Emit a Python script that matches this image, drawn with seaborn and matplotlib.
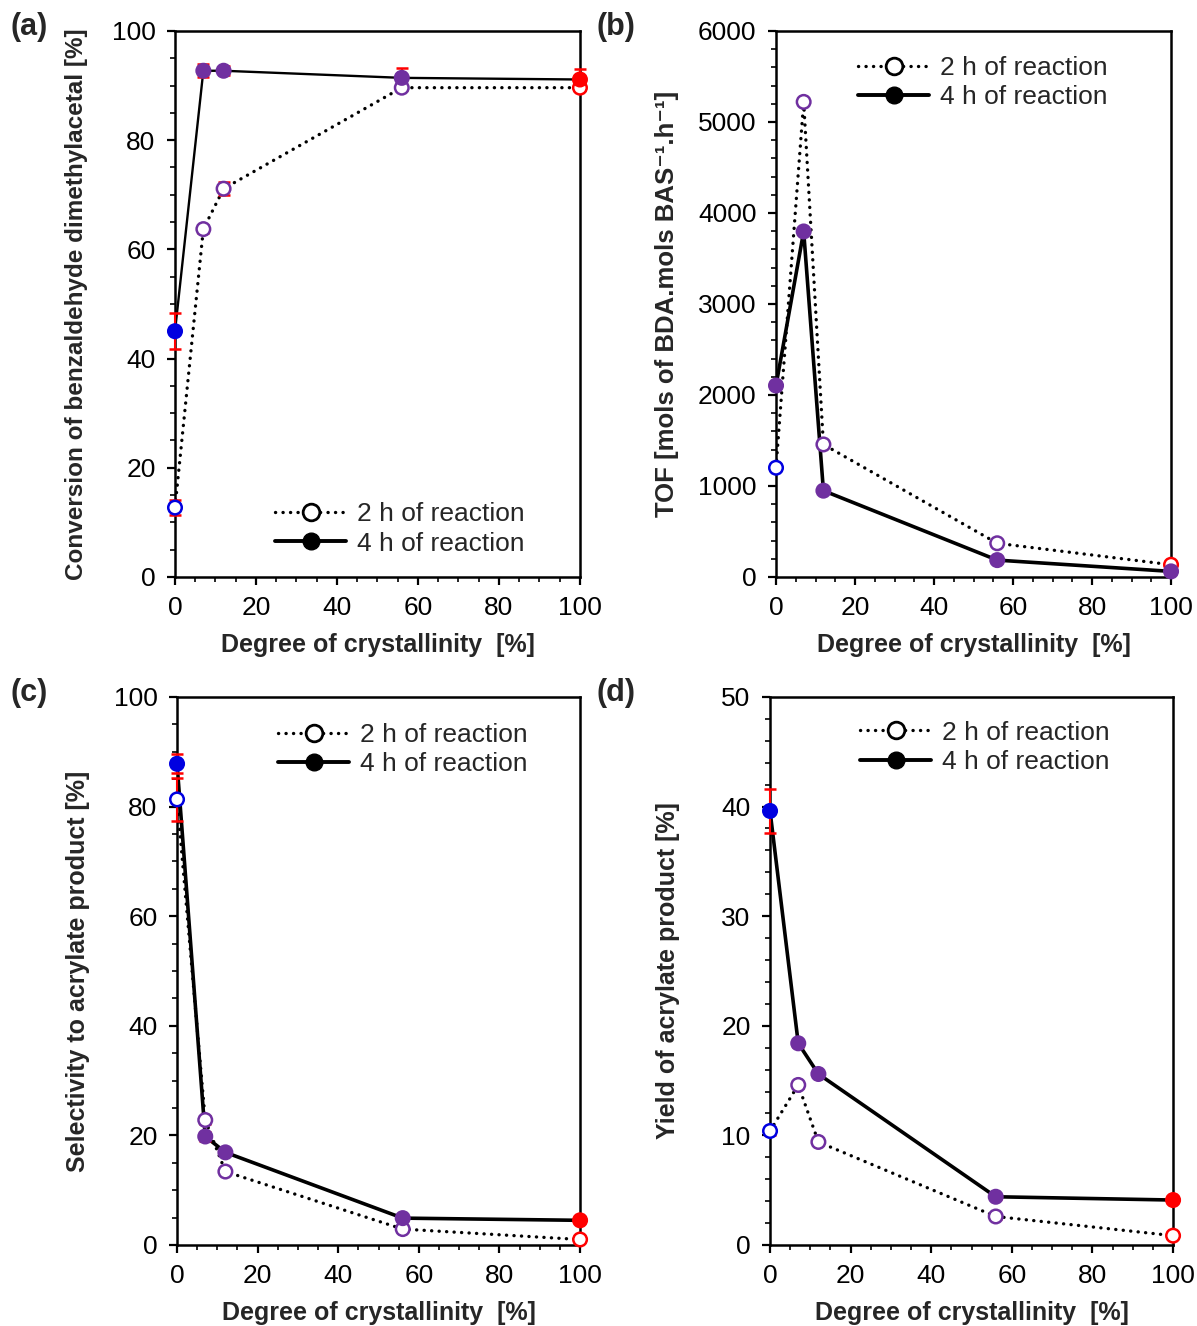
import pandas as pd
import seaborn as sns
import matplotlib.pyplot as plt
from matplotlib.lines import Line2D
from matplotlib.ticker import MultipleLocator

sns.set_style("ticks")
plt.rcParams["font.family"] = ["Liberation Sans", "DejaVu Sans"]

# Degree of crystallinity of the samples [%]
crystallinity = [0, 7, 12, 56, 100]

# (a) conversion of benzaldehyde dimethylacetal [%]
conv_2h = [12.7, 63.7, 71.1, 89.6, 89.6]
conv_2h_err = [1.4, 0.8, 1.2, 0.4, 0.4]
conv_4h = [45.0, 92.7, 92.7, 91.4, 91.1]
conv_4h_err = [3.3, 1.2, 0.8, 1.8, 2.0]

# (b) TOF [mols of BDA / mols BAS / h]
tof_2h = [1200, 5220, 1456, 370, 134]
tof_4h = [2103, 3796, 948, 185, 61]

# (c) selectivity to acrylate product [%]
sel_2h = [81.3, 22.8, 13.4, 2.9, 1.0]
sel_2h_err = [4.0, 0.8, 0.5, 0.3, 0.3]
sel_4h = [87.8, 19.8, 16.9, 4.9, 4.5]
sel_4h_err = [1.7, 0.8, 0.5, 0.3, 0.3]

# (d) yield of acrylate product [%]
yield_2h = [10.4, 14.6, 9.4, 2.6, 0.85]
yield_2h_err = [0.4, 0.3, 0.3, 0.2, 0.2]
yield_4h = [39.6, 18.4, 15.6, 4.4, 4.1]
yield_4h_err = [2.0, 0.3, 0.3, 0.2, 0.2]

# sample type of each point (sets the marker colour)
sample_group = ["amorphous", "partial", "partial", "partial", "crystalline"]
tof_4h_group = ["partial", "partial", "partial", "partial", "partial"]
palette = {"amorphous": "#0000E0", "partial": "#7030A0", "crystalline": "#FF0000"}

legend_labels = ["2 h of reaction", "4 h of reaction"]
xlabel = "Degree of crystallinity  [%]"

DOTTED = (0, (0.05, 2.2))


def draw_series(ax, y, err, groups, hollow, line_style, lw):
    sns.lineplot(x=crystallinity, y=y, color="black", linestyle=line_style,
                 linewidth=lw, dash_capstyle="round", ax=ax, zorder=2,
                 errorbar=None)
    if err is not None:
        ax.errorbar(crystallinity, y, yerr=err, fmt="none", ecolor="red",
                    elinewidth=1.5, capsize=4, capthick=1.8, zorder=4,
                    clip_on=False)
    df = pd.DataFrame({"x": crystallinity, "y": y, "group": groups})
    sns.scatterplot(data=df, x="x", y="y", hue="group", palette=palette,
                    s=95, linewidth=1.8, legend=False, ax=ax, zorder=5,
                    clip_on=False)
    coll = ax.collections[-1]
    cols = coll.get_facecolors()
    coll.set_edgecolors(cols)
    if hollow:
        coll.set_facecolors("white")


def draw_panel(ax, y2, e2, g2, y4, e4, g4, ymax, ymajor, yminor, ylabel,
               ylabel_fs, ylabel_x, leg_pos, lw):
    draw_series(ax, y2, e2, g2, True, DOTTED, 2.4)
    draw_series(ax, y4, e4, g4, False, "-", lw)

    ax.set_xlim(0, 100)
    ax.set_ylim(0, ymax)
    ax.xaxis.set_major_locator(MultipleLocator(20))
    ax.xaxis.set_minor_locator(MultipleLocator(5))
    ax.yaxis.set_major_locator(MultipleLocator(ymajor))
    ax.yaxis.set_minor_locator(MultipleLocator(yminor))
    ax.tick_params(which="major", direction="out", length=6, width=1.6,
                   labelsize=19, pad=8, colors="black")
    ax.tick_params(which="minor", direction="out", length=3.5, width=1.4)
    for sp in ax.spines.values():
        sp.set_visible(True)
        sp.set_linewidth(1.8)
        sp.set_color("black")

    ax.set_xlabel(xlabel, fontsize=18, fontweight="bold", labelpad=9)
    ax.set_ylabel(ylabel, fontsize=ylabel_fs, fontweight="bold")
    ax.yaxis.set_label_coords(ylabel_x, 0.5)

    handles = [
        Line2D([0], [0], color="black", linestyle=DOTTED, lw=2.4,
               dash_capstyle="round", marker="o", markersize=12,
               markerfacecolor="white", markeredgecolor="black",
               markeredgewidth=2),
        Line2D([0], [0], color="black", linestyle="-", lw=2.8, marker="o",
               markersize=12, markerfacecolor="black",
               markeredgecolor="black"),
    ]
    ax.legend(handles, legend_labels, loc="center left", bbox_to_anchor=leg_pos,
              frameon=False, fontsize=19, handlelength=2.7,
              handletextpad=0.4, labelspacing=0.2, borderpad=0,
              borderaxespad=0)


fig = plt.figure(figsize=(11.97, 13.26), dpi=100)
ax_a = fig.add_axes([0.1462, 0.5649, 0.3383, 0.4118])
ax_b = fig.add_axes([0.6483, 0.5649, 0.3300, 0.4118])
ax_c = fig.add_axes([0.1479, 0.0611, 0.3367, 0.4133])
ax_d = fig.add_axes([0.6433, 0.0611, 0.3367, 0.4133])

draw_panel(ax_a, conv_2h, conv_2h_err, sample_group,
           conv_4h, conv_4h_err, sample_group,
           100, 20, 5, "Conversion of benzaldehyde dimethylacetal [%]",
           17.5, -0.215, (0.247, 0.088), 1.7)
draw_panel(ax_b, tof_2h, None, sample_group,
           tof_4h, None, tof_4h_group,
           6000, 1000, 200, "TOF [mols of BDA.mols BAS\u207b\u00b9.h\u207b\u00b9]",
           18.5, -0.245, (0.208, 0.905), 2.6)
draw_panel(ax_c, sel_2h, sel_2h_err, sample_group,
           sel_4h, sel_4h_err, sample_group,
           100, 20, 5, "Selectivity to acrylate product [%]",
           18, -0.216, (0.251, 0.904), 2.6)
draw_panel(ax_d, yield_2h, yield_2h_err, sample_group,
           yield_4h, yield_4h_err, sample_group,
           50, 10, 2, "Yield of acrylate product [%]",
           18, -0.223, (0.223, 0.908), 2.6)

for letter, px, py in [("(a)", 10, 12), ("(b)", 597, 12),
                       ("(c)", 10, 678), ("(d)", 597, 678)]:
    fig.text(px / 1197, 1 - py / 1326, letter, fontsize=22,
             fontweight="bold", ha="left", va="top")

fig.savefig("out.png", dpi=100)
